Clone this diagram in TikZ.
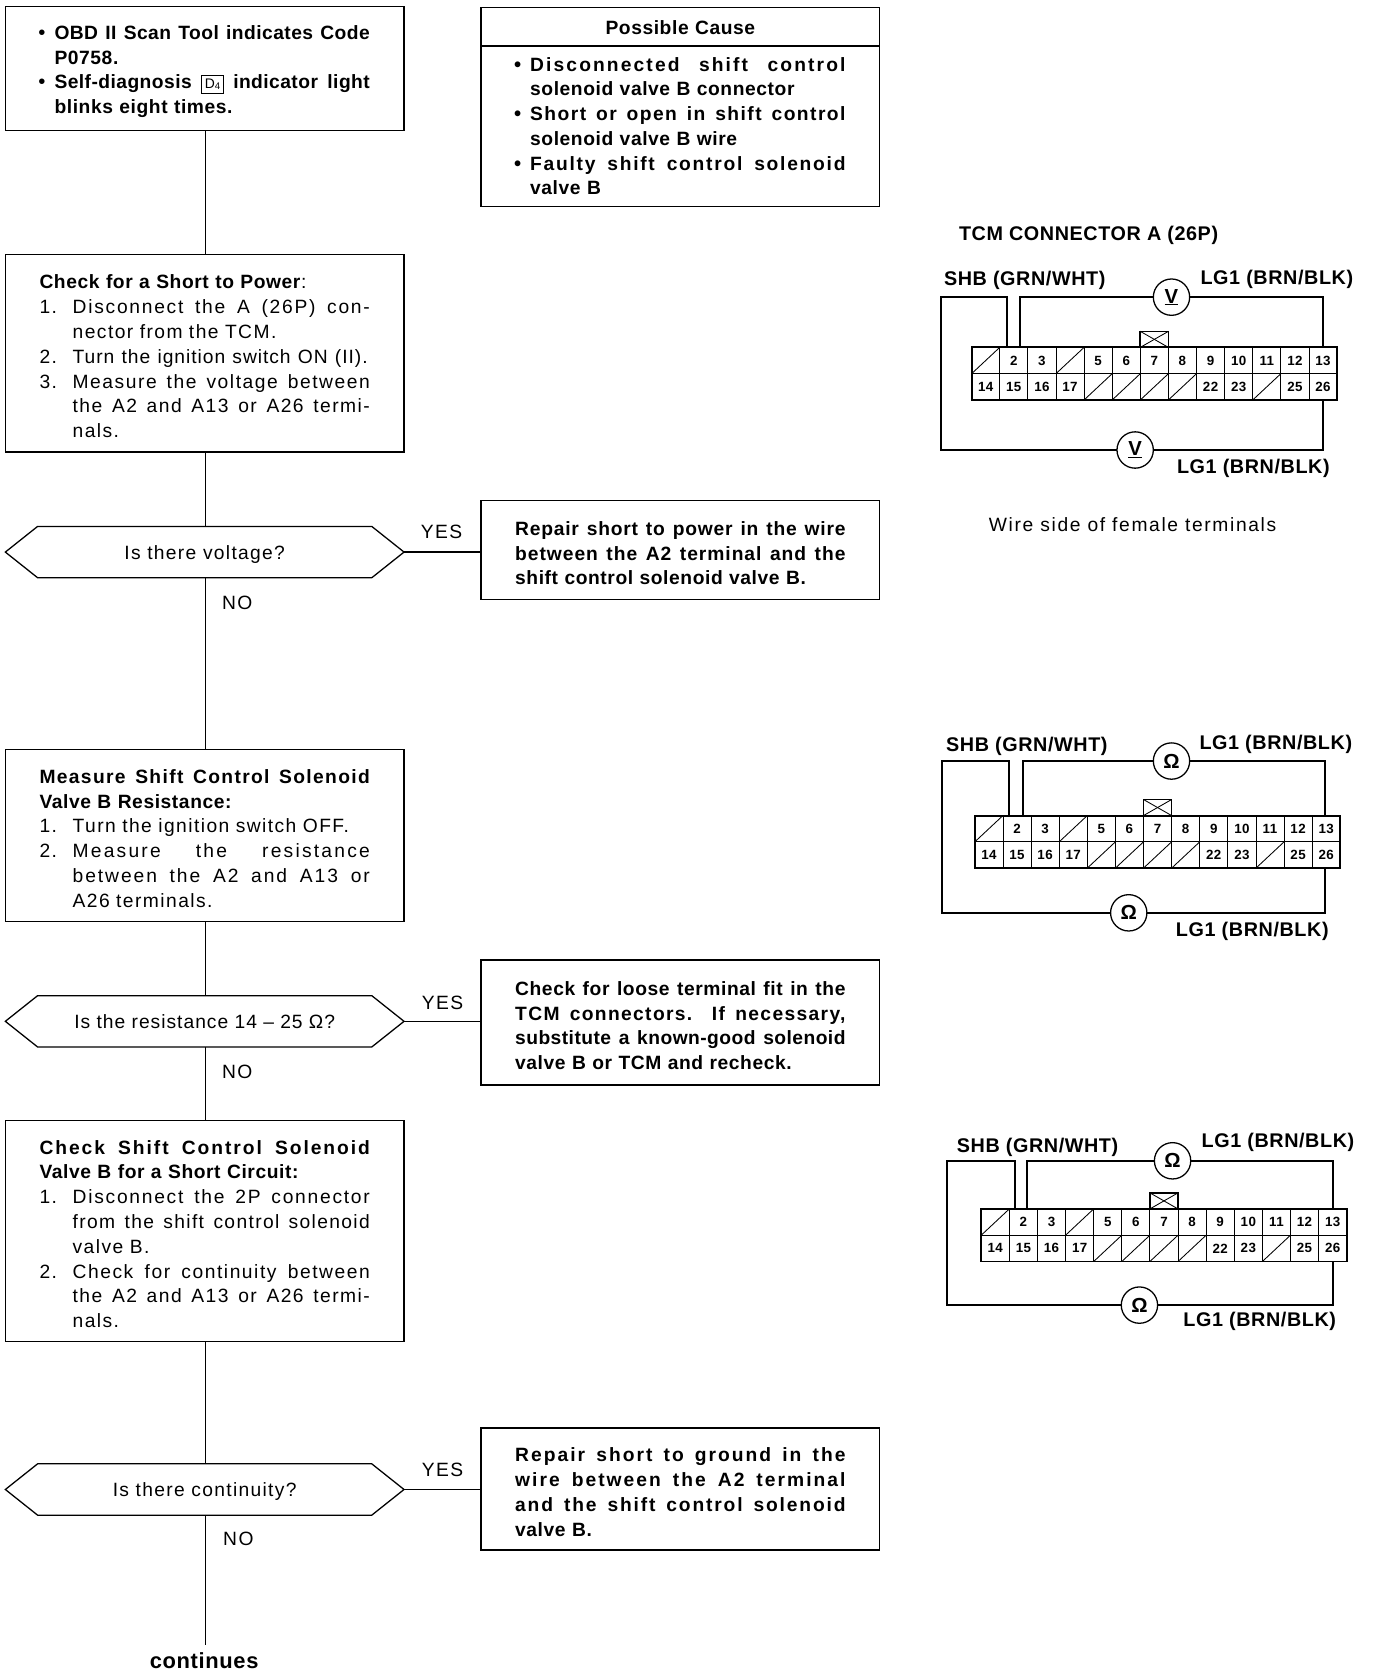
\documentclass[tikz,border=0pt]{standalone}
\usepackage{fontspec}
\setmainfont{Liberation Sans}[UprightFeatures={LetterSpace=7.5}, BoldFeatures={LetterSpace=3}]
\newfontfamily\askfont{Liberation Sans}[LetterSpace=6.8]
\newfontfamily\wirefont{Liberation Sans}[LetterSpace=8.5]
\newfontfamily\labelfont{Liberation Sans}[LetterSpace=3]
\usetikzlibrary{shapes.symbols}
\newcommand{\fillline}[3][3]{\makebox[#2][s]{\fontspec{Liberation Sans}[LetterSpace=#1]\spaceskip=0pt\xspaceskip=0pt #3}}
\newcommand{\numline}[2]{\makebox[31pt][l]{#1}#2}
\newcommand{\bulletline}[1]{\makebox[14pt][l]{\hspace*{-1pt}\fontsize{19}{13}\selectfont •}#1}
\newcommand{\dfour}{{\fboxsep=3pt\fboxrule=0.4pt\fbox{\mdseries\fontsize{13}{13}\selectfont\rule[-1pt]{0pt}{11pt}D\raisebox{-1pt}{\fontsize{9}{9}\selectfont 4}}}}
\tikzset{
  stepbox/.style={draw, line width=1.2pt, anchor=north west, outer sep=0pt, inner xsep=32pt, inner ysep=0pt,
    minimum width=373pt, text width=309pt, align=left, font=\fontsize{18}{23.2}\selectfont,
    execute at begin node={\rule{0pt}{#1}}},
  stepbox/.default=19pt,
  askbox/.style={draw, line width=1.2pt, signal, signal to=west and east, signal pointer angle=77, outer sep=0pt,
    inner sep=0pt, minimum width=373pt, minimum height=48pt, text height=13pt, text depth=0pt,
    font=\fontsize{18}{20}\askfont},
  flow/.style={line width=1.2pt},
  answer/.style={inner sep=0pt, font=\fontsize{18}{20}\selectfont},
  connlabel/.style={anchor=west, inner sep=0pt, yshift=-2pt, font=\fontsize{18.5}{20}\labelfont\bfseries},
  cell/.style={draw, line width=0.8pt, outer sep=0pt, inner sep=0pt, minimum width=26.3pt, minimum height=24.6pt,
    font=\fontsize{12.5}{14}\selectfont\bfseries},
  meter/.style={draw, circle, line width=1.2pt, outer sep=0pt, inner sep=0pt, minimum size=34pt,
    font=\fontsize{19}{20}\selectfont\bfseries},
  wire/.style={line width=1.8pt}
}
\begin{document}
\begin{tikzpicture}[x=1pt, y=-1pt]
  \useasboundingbox (0, 0) rectangle (1287, 1568);
  \node[stepbox, minimum height=116pt] (scan) at (5, 6) {%
    \bulletline{\textbf{\fillline[2.3]{295pt}{OBD II Scan Tool indicates Code}}}\\
    \hspace*{14pt}\textbf{P0758.}\\
    \bulletline{\textbf{\fillline[2.3]{295pt}{Self-diagnosis \dfour{} indicator light}}}\\
    \hspace*{14pt}\textbf{blinks eight times.}};
  \node[stepbox, minimum height=185pt] (power) at (5, 238) {%
    \textbf{Check for a Short to Power}:\\
    \numline{1.}{\fillline[9]{278pt}{Disconnect the A (26P) con-}}\\
    \hspace*{31pt}nector from the TCM.\\
    \numline{2.}{\fillline[5]{276pt}{Turn the ignition switch ON (II).}}\\
    \numline{3.}{\fillline[8]{278pt}{Measure the voltage between}}\\
    \hspace*{31pt}\fillline[7.5]{278pt}{the A2 and A13 or A26 termi-}\\
    \hspace*{31pt}nals.};
  \node[askbox] (askvolt) at (191.5, 516.5) {Is there voltage?};
  \node[stepbox, minimum height=161pt] (resist) at (5, 701) {%
    \textbf{\fillline[7]{309pt}{Measure Shift Control Solenoid}}\\
    \textbf{Valve B Resistance:}\\
    \numline{1.}{Turn the ignition switch OFF.}\\
    \numline{2.}{\fillline[11.5]{278pt}{Measure the resistance}}\\
    \hspace*{31pt}\fillline[10]{278pt}{between the A2 and A13 or}\\
    \hspace*{31pt}A26 terminals.};
  \node[askbox] (askohm) at (191.5, 955.5) {\fillline[5.2]{244pt}{Is the resistance 14 – 25 Ω?}};
  \node[stepbox, minimum height=207pt] (shorted) at (5, 1048) {%
    \textbf{\fillline[10]{309pt}{Check Shift Control Solenoid}}\\
    \textbf{Valve B for a Short Circuit:}\\
    \numline{1.}{\fillline[9]{278pt}{Disconnect the 2P connector}}\\
    \hspace*{31pt}\fillline[7]{278pt}{from the shift control solenoid}\\
    \hspace*{31pt}valve B.\\
    \numline{2.}{\fillline[8]{278pt}{Check for continuity between}}\\
    \hspace*{31pt}\fillline[7.5]{278pt}{the A2 and A13 or A26 termi-}\\
    \hspace*{31pt}nals.};
  \node[askbox] (askcont) at (191.5, 1393.5) {Is there continuity?};
  \node[inner sep=0pt, font=\fontsize{20.5}{22}\selectfont\bfseries] (cont) at (191, 1554) {continues};

  \node[stepbox=14pt, minimum height=36pt, align=center, font=\fontsize{18}{20}\selectfont\bfseries] (causehead) at (450, 7) {Possible Cause};
  \node[stepbox=13pt, minimum height=150pt, font=\fontsize{18}{23.2}\selectfont\bfseries] (cause) at (450, 43) {%
    \bulletline{\fillline[11]{295pt}{Disconnected shift control}}\\
    \hspace*{14pt}solenoid valve B connector\\
    \bulletline{\fillline[7.5]{295pt}{Short or open in shift control}}\\
    \hspace*{14pt}solenoid valve B wire\\
    \bulletline{\fillline[9]{295pt}{Faulty shift control solenoid}}\\
    \hspace*{14pt}valve B};
  \node[stepbox, minimum height=93pt, font=\fontsize{18}{23.2}\selectfont\bfseries] (fixvolt) at (450, 468) {%
    \fillline[4]{309pt}{Repair short to power in the wire}\\
    \fillline[5]{309pt}{between the A2 terminal and the}\\
    shift control solenoid valve B.};
  \node[stepbox, minimum height=117pt, font=\fontsize{18}{23.2}\selectfont\bfseries] (fixohm) at (450, 898) {%
    \fillline[3]{309pt}{Check for loose terminal fit in the}\\
    \fillline[7]{309pt}{TCM connectors. If necessary,}\\
    \fillline[2.3]{309pt}{substitute a known-good solenoid}\\
    valve B or TCM and recheck.};
  \node[stepbox, minimum height=114pt, font=\fontsize{18}{23.2}\selectfont\bfseries] (fixcont) at (450, 1336) {%
    \fillline[10.5]{309pt}{Repair short to ground in the}\\
    \fillline[10.5]{309pt}{wire between the A2 terminal}\\
    \fillline[9.5]{309pt}{and the shift control solenoid}\\
    valve B.};

  \draw[flow] ([xshift=1pt]scan.south) -- ([xshift=1pt]power.north);
  \draw[flow] ([xshift=1pt]power.south) -- ([xshift=1pt]askvolt.north);
  \draw[flow] ([xshift=1pt]askvolt.south) -- ([xshift=1pt]resist.north);
  \draw[flow] ([xshift=1pt]resist.south) -- ([xshift=1pt]askohm.north);
  \draw[flow] ([xshift=1pt]askohm.south) -- ([xshift=1pt]shorted.north);
  \draw[flow] ([xshift=1pt]shorted.south) -- ([xshift=1pt]askcont.north);
  \draw[flow, shorten >=7pt] ([xshift=1pt]askcont.south) -- ([xshift=1pt]askcont.south |- cont.north);
  \draw[flow] (askvolt.east) -- (askvolt.east -| fixvolt.west);
  \draw[flow] (askohm.east) -- (askohm.east -| fixohm.west);
  \draw[flow] (askcont.east) -- (askcont.east -| fixcont.west);

  \node[answer] (yes1) at (413, 498) {YES};
  \node[answer] (no1) at (222, 564) {NO};
  \node[answer] (yes2) at (414, 938) {YES};
  \node[answer] (no2) at (222, 1003) {NO};
  \node[answer] (yes3) at (414, 1375) {YES};
  \node[answer] (no3) at (223, 1440) {NO};

  \node[connlabel] (title) at (897, 218) {TCM CONNECTOR A (26P)};
  \node[connlabel] (shb1) at (883, 260) {SHB (GRN/WHT)};
  \node[connlabel] (lgt1) at (1123, 259) {LG1 (BRN/BLK)};
  \node[connlabel] (lgb1) at (1101, 436) {LG1 (BRN/BLK)};
  \node[anchor=west, inner sep=0pt, font=\fontsize{18}{20}\wirefont] (side) at (925, 491) {Wire side of female terminals};
  \node[connlabel] (shb2) at (885, 696) {SHB (GRN/WHT)};
  \node[connlabel] (lgt2) at (1122, 694) {LG1 (BRN/BLK)};
  \node[connlabel] (lgb2) at (1100, 869) {LG1 (BRN/BLK)};
  \node[connlabel] (shb3) at (895, 1071) {SHB (GRN/WHT)};
  \node[connlabel] (lgt3) at (1124, 1067) {LG1 (BRN/BLK)};
  \node[connlabel] (lgb3) at (1107, 1234) {LG1 (BRN/BLK)};

  \foreach \n/\gx/\gy/\wl/\wa/\wb/\wr/\yt/\yb/\mt/\mb/\unit in {
      1/909/325/880/942/954/1238/278/421/1096/1062/{\underline{V}},
      2/912/763/881/944/957/1240/712/854/1096/1056/Ω,
      3/918/1131/886/950/961/1247/1086/1221/1097/1066/Ω} {
    \foreach \t [count=\c] in {0,2,3,0,5,6,7,8,9,10,11,12,13} {
      \node[cell] (t\n-\c) at (\gx+\c*26.3-13.15, \gy+12.3) {\ifnum\t=0 \else\t\fi};
      \ifnum\t=0 \draw[line width=0.8pt] (t\n-\c.south west) -- (t\n-\c.north east); \fi
    }
    \foreach \t [count=\c] in {14,15,16,17,0,0,0,0,22,23,0,25,26} {
      \node[cell] (u\n-\c) at (\gx+\c*26.3-13.15, \gy+36.9) {\ifnum\t=0 \else\t\fi};
      \ifnum\t=0 \draw[line width=0.8pt] (u\n-\c.south west) -- (u\n-\c.north east); \fi
    }
    \draw[wire] (t\n-1.north west) rectangle (u\n-13.south east);
    \node[draw, line width=1.5pt, anchor=south, outer sep=0pt, inner sep=0pt, minimum width=26.3pt, minimum height=15pt] (key\n) at (t\n-7.north) {};
    \draw[line width=0.8pt] (key\n.north west) -- (key\n.south east);
    \draw[line width=0.8pt] (key\n.south west) -- (key\n.north east);
    \node[meter] (mt\n) at (\mt, \yt) {\unit};
    \node[meter] (mb\n) at (\mb, \yb) {\unit};
    \coordinate (a\n) at (\wa, \gy);
    \coordinate (b\n) at (\wb, \gy);
    \coordinate (r\n) at (\wr, \gy);
    \coordinate (s\n) at (\wr, \gy+49.2);
    \coordinate (l\n) at (\wl, \yt);
    \draw[wire] (a\n) |- (l\n) |- (mb\n.west);
    \draw[wire] (mb\n.east) -| (s\n);
    \draw[wire] (b\n) |- (mt\n.west);
    \draw[wire] (mt\n.east) -| (r\n);
  }
\end{tikzpicture}
\end{document}
